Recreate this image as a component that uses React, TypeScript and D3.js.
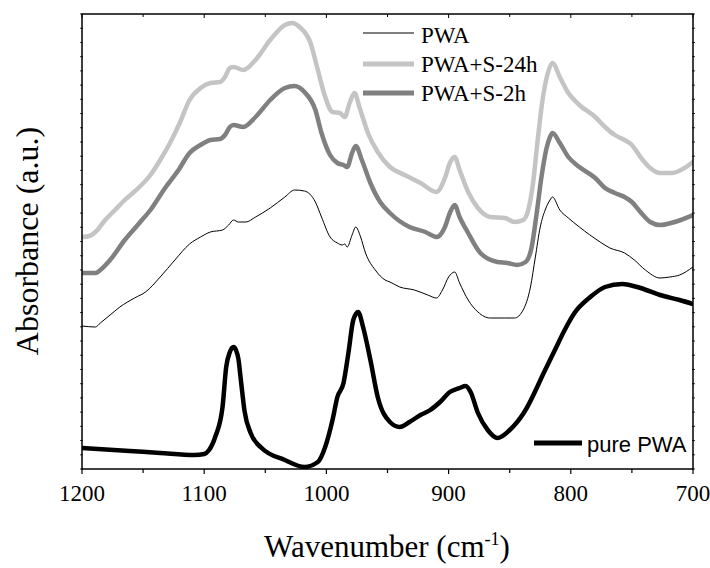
import React from "react";
import * as d3 from "d3";

// Wavenumber (cm-1) and absorbance (arbitrary units)
const purePWA_w = [1200, 1161, 1136, 1108, 1100, 1096, 1091, 1085, 1082, 1079, 1076, 1074, 1072, 1070, 1067, 1062, 1053, 1034, 1018, 1007, 1001, 995, 991, 986, 982, 978, 974, 970, 964, 958, 948, 940, 932, 923, 915, 907, 899, 891, 886, 882, 876, 868, 860, 850, 838, 821, 813, 805, 797, 784, 772, 758, 743, 727, 711, 700];
const purePWA_a = [21, 18, 16, 14, 15, 19, 32, 62, 102, 117, 122, 119, 110, 89, 58, 36, 21, 9, 2, 7, 22, 49, 72, 86, 116, 149, 157, 142, 109, 72, 47, 42, 47, 54, 59, 67, 77, 81, 83, 77, 56, 39, 31, 39, 57, 99, 119, 139, 156, 172, 182, 185, 181, 174, 169, 165];

const PWA_w = [1200, 1189, 1185, 1177, 1169, 1157, 1148, 1136, 1124, 1112, 1103, 1095, 1085, 1080, 1076, 1072, 1066, 1058, 1046, 1034, 1026, 1018, 1009, 1004, 997, 991, 987, 985, 983, 979, 976, 972, 968, 960, 952, 948, 940, 928, 917, 910, 905, 900, 895, 891, 884, 876, 866, 854, 846, 839, 833, 829, 825, 821, 817, 815, 809, 802, 793, 776, 768, 756, 748, 739, 727, 719, 711, 700];
const PWA_a = [143, 142, 146, 154, 162, 171, 177, 192, 209, 225, 232, 237, 239, 244, 249, 247, 247, 252, 261, 272, 279, 278, 267, 252, 232, 226, 224, 225, 222, 234, 242, 232, 216, 199, 189, 187, 182, 179, 174, 171, 179, 192, 197, 186, 169, 157, 151, 151, 151, 159, 182, 212, 242, 259, 269, 272, 259, 251, 242, 227, 221, 216, 209, 199, 191, 192, 194, 202];

const S2h_w = [1200, 1189, 1185, 1177, 1165, 1153, 1144, 1132, 1121, 1112, 1103, 1095, 1087, 1083, 1079, 1076, 1068, 1058, 1046, 1034, 1026, 1018, 1009, 1004, 997, 991, 986, 983, 979, 976, 971, 964, 956, 948, 932, 919, 910, 903, 899, 895, 891, 884, 874, 860, 852, 844, 837, 832, 828, 824, 820, 817, 815, 809, 802, 793, 780, 772, 764, 756, 750, 743, 735, 727, 715, 700];
const S2h_a = [196, 196, 199, 209, 229, 246, 259, 281, 299, 316, 324, 329, 330, 334, 342, 344, 342, 352, 369, 381, 383, 377, 359, 336, 314, 306, 304, 302, 316, 323, 309, 286, 267, 256, 242, 237, 232, 242, 256, 264, 252, 236, 216, 207, 206, 204, 207, 222, 255, 292, 320, 332, 336, 326, 312, 302, 291, 281, 276, 272, 267, 257, 247, 244, 247, 254];

const S24h_w = [1200, 1194, 1189, 1181, 1173, 1165, 1153, 1144, 1136, 1128, 1120, 1112, 1103, 1095, 1087, 1083, 1079, 1076, 1068, 1058, 1046, 1034, 1028, 1022, 1013, 1007, 1002, 995, 989, 985, 981, 977, 973, 966, 958, 948, 936, 923, 910, 903, 899, 895, 891, 884, 876, 866, 854, 846, 839, 835, 831, 827, 823, 819, 815, 809, 802, 793, 780, 772, 764, 756, 750, 743, 735, 727, 717, 707, 700];
const S24h_a = [232, 233, 237, 249, 259, 269, 282, 294, 309, 326, 346, 369, 381, 386, 387, 392, 401, 402, 399, 409, 429, 444, 446, 442, 426, 399, 376, 357, 356, 352, 366, 376, 362, 336, 317, 302, 294, 286, 277, 291, 306, 312, 299, 277, 261, 252, 251, 247, 249, 258, 285, 330, 370, 395, 406, 392, 376, 364, 352, 342, 334, 329, 324, 312, 301, 296, 296, 301, 307];

const xTicks = [1200, 1100, 1000, 900, 800, 700];
const xMinorTicks = [1150, 1050, 950, 850, 750];
const legendNames = ["PWA", "PWA+S-24h", "PWA+S-2h"];
const pureName = "pure PWA";

const W = 710, H = 568;
const M = { left: 82, right: 693, top: 14, bottom: 469 };

export default function App() {
  const x = d3.scaleLinear().domain([1200, 700]).range([M.left, M.right]);
  const y = d3.scaleLinear().domain([0, 455]).range([M.bottom, M.top]);
  const line = d3
    .line<[number, number]>()
    .x((d) => x(d[0]))
    .y((d) => y(d[1]))
    .curve(d3.curveMonotoneX);
  const zip = (w: number[], a: number[]) => w.map((v, i) => [v, a[i]] as [number, number]);

  const yTicks = d3.range(0, 455.1, 455 / 32);
  const serif = "'Liberation Serif', 'Times New Roman', serif";
  const sans = "'Liberation Sans', Arial, sans-serif";

  const series = [
    { data: zip(S24h_w, S24h_a), color: "#c4c4c4", width: 4.5 },
    { data: zip(S2h_w, S2h_a), color: "#808080", width: 4.5 },
    { data: zip(PWA_w, PWA_a), color: "#000", width: 1 },
    { data: zip(purePWA_w, purePWA_a), color: "#000", width: 4.5 },
  ];

  const legendStyles = [
    { color: "#555", width: 1.5 },
    { color: "#c4c4c4", width: 5 },
    { color: "#808080", width: 5 },
  ];
  const legendLineY = [33, 64, 93];
  const legendTextY = [43, 72, 101];

  return (
    <svg width={W} height={H} style={{ display: "block", position: "absolute", left: 0, top: 0 }}>
      <rect x={0} y={0} width={W} height={H} fill="#fff" />
      <defs>
        <clipPath id="plot">
          <rect x={M.left} y={M.top} width={M.right - M.left} height={M.bottom - M.top} />
        </clipPath>
      </defs>
      <g clipPath="url(#plot)">
        {series.map((s, i) => (
          <path key={i} d={line(s.data) || ""} fill="none" stroke={s.color} strokeWidth={s.width} strokeLinejoin="round" strokeLinecap="round" />
        ))}
      </g>
      <rect x={M.left} y={M.top} width={M.right - M.left} height={M.bottom - M.top} fill="none" stroke="#000" strokeWidth={1.5} />
      {xTicks.map((t) => (
        <g key={"M" + t}>
          <line x1={x(t)} x2={x(t)} y1={M.bottom} y2={M.bottom + 5} stroke="#000" strokeWidth={1.2} />
          <line x1={x(t)} x2={x(t)} y1={M.top} y2={M.top + 4} stroke="#000" strokeWidth={1} />
          <text x={x(t)} y={501} textAnchor="middle" fontFamily={serif} fontSize={23}>{t}</text>
        </g>
      ))}
      {xMinorTicks.map((t) => (
        <g key={"m" + t}>
          <line x1={x(t)} x2={x(t)} y1={M.bottom} y2={M.bottom + 4} stroke="#000" strokeWidth={1.2} />
          <line x1={x(t)} x2={x(t)} y1={M.top} y2={M.top + 3} stroke="#000" strokeWidth={1} />
        </g>
      ))}
      {yTicks.map((t, i) => (
        <g key={"y" + i}>
          <line x1={M.left - 2} x2={M.left + 1} y1={y(t)} y2={y(t)} stroke="#000" strokeWidth={0.8} />
          <line x1={M.right - 1} x2={M.right + 2} y1={y(t)} y2={y(t)} stroke="#000" strokeWidth={0.8} />
        </g>
      ))}
      <text x={387} y={557} textAnchor="middle" fontFamily={serif} fontSize={31}>
        Wavenumber (cm<tspan dy={-12} fontSize={18}>-1</tspan><tspan dy={12}>)</tspan>
      </text>
      <text transform="translate(38,241) rotate(-90)" textAnchor="middle" fontFamily={serif} fontSize={32}>
        Absorbance (a.u.)
      </text>
      {legendNames.map((n, i) => (
        <g key={n}>
          <line x1={363} x2={414} y1={legendLineY[i]} y2={legendLineY[i]} stroke={legendStyles[i].color} strokeWidth={legendStyles[i].width} />
          <text x={421} y={legendTextY[i]} fontFamily={serif} fontSize={23}>{n}</text>
        </g>
      ))}
      <line x1={534} x2={582} y1={443} y2={443} stroke="#000" strokeWidth={5} />
      <text x={587} y={452} fontFamily={sans} fontSize={22}>{pureName}</text>
    </svg>
  );
}
